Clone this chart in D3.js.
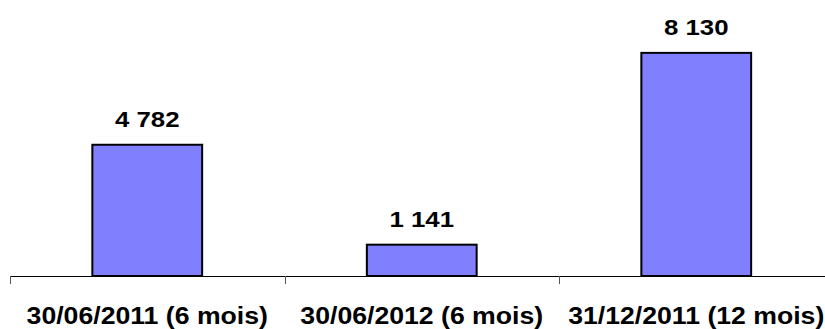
<!DOCTYPE html>
<html>
<head>
<meta charset="utf-8">
<script src="https://cdn.jsdelivr.net/npm/d3@7"></script>
<style>
  html, body { margin: 0; padding: 0; background: #fff; }
  svg { display: block; font-family: "Liberation Sans", Arial, sans-serif; font-weight: bold; }
</style>
</head>
<body>
<svg id="chart" width="825" height="329"></svg>
<script>
// Period labels and the values shown above each bar
const categories = ["30/06/2011 (6 mois)", "30/06/2012 (6 mois)", "31/12/2011 (12 mois)"];
const values = [4782, 1141, 8130];

const svg = d3.select("#chart");
const baseY = 276;

const x = d3.scaleBand()
  .domain(categories)
  .range([10, 833.5])
  .paddingInner(0.6)
  .paddingOuter(0.3);

const step = x.step();
const y = d3.scaleLinear().domain([0, 9000]).range([baseY, 29]);

// French-style thousands separator ("8 130")
const fmt = d3.formatLocale({ decimal: ",", thousands: " ", grouping: [3], currency: ["", " €"] }).format(",d");

// Bars
svg.append("g").selectAll("rect")
  .data(values)
  .join("rect")
  .attr("x", (d, i) => x(categories[i]))
  .attr("y", d => y(d))
  .attr("width", x.bandwidth())
  .attr("height", d => baseY - y(d))
  .attr("fill", "#8080ff")
  .attr("stroke", "#000")
  .attr("stroke-width", 2);

// Category axis: baseline plus tick marks between categories
const axisG = svg.append("g");
axisG.append("line")
  .attr("x1", 10).attr("x2", 825)
  .attr("y1", baseY + 0.5).attr("y2", baseY + 0.5)
  .attr("stroke", "#000").attr("stroke-width", 1);

const tickXs = categories.map(c => x(c) - x.paddingOuter() * step);
axisG.selectAll("line.tick")
  .data(tickXs)
  .join("line")
  .attr("class", "tick")
  .attr("x1", d => Math.round(d) + 0.5).attr("x2", d => Math.round(d) + 0.5)
  .attr("y1", baseY).attr("y2", baseY + 8)
  .attr("stroke", "#555").attr("stroke-width", 1);

// Category labels
svg.append("g").selectAll("text")
  .data(categories)
  .join("text")
  .attr("transform", d => `translate(${x(d) + x.bandwidth() / 2},324) scale(1.11,1)`)
  .attr("text-anchor", "middle")
  .attr("font-size", 24)
  .attr("fill", "#000")
  .text(d => d);

// Value labels above the bars
svg.append("g").selectAll("text")
  .data(values)
  .join("text")
  .attr("transform", (d, i) => `translate(${x(categories[i]) + x.bandwidth() / 2},${y(d) - 17.5}) scale(1.2,1)`)
  .attr("text-anchor", "middle")
  .attr("font-size", 21.5)
  .attr("fill", "#000")
  .text(d => fmt(d));
</script>
</body>
</html>
